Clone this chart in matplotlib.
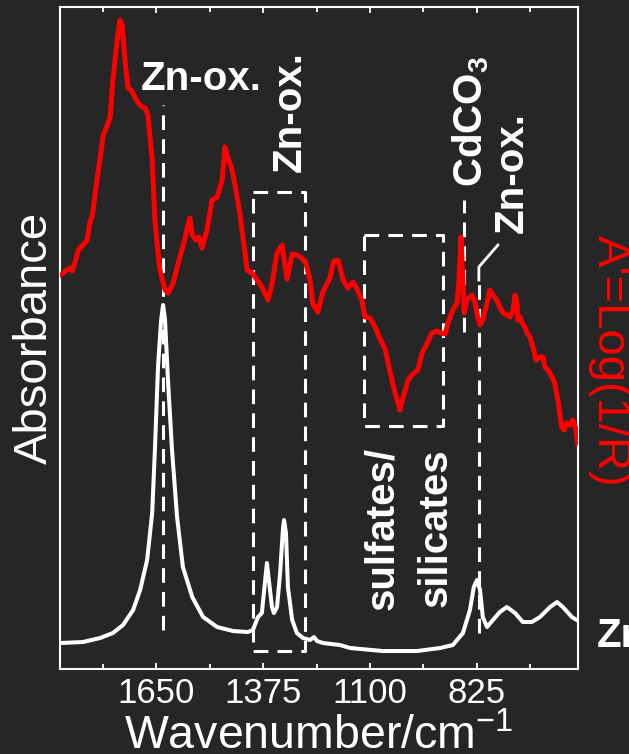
import matplotlib
matplotlib.use("Agg")
import matplotlib.pyplot as plt
from matplotlib.ticker import MultipleLocator

plt.rcParams['font.family'] = ['Liberation Sans', 'DejaVu Sans']
plt.rcParams['mathtext.fontset'] = 'custom'
plt.rcParams['mathtext.rm'] = 'Liberation Sans'
plt.rcParams['mathtext.default'] = 'regular'

# red spectrum: A' = log(1/R)
red_wn = [1897, 1889, 1879, 1871, 1866, 1858, 1850, 1838, 1827, 1820,
          1814, 1802, 1791, 1786, 1776, 1768, 1761, 1750, 1743, 1737,
          1730, 1722, 1714, 1707, 1696, 1686, 1678, 1671, 1660, 1653,
          1647, 1640, 1627, 1619, 1606, 1593, 1578, 1570, 1563, 1557,
          1547, 1540, 1532, 1519, 1506, 1493, 1480, 1473, 1465, 1457,
          1447, 1434, 1424, 1416, 1403, 1390, 1378, 1362, 1352, 1339,
          1326, 1318, 1313, 1300, 1288, 1275, 1265, 1254, 1247, 1234,
          1221, 1203, 1193, 1182, 1169, 1157, 1144, 1133, 1121, 1113,
          1100, 1087, 1074, 1061, 1049, 1036, 1023, 1013, 1002, 990,
          977, 966, 954, 941, 928, 918, 907, 897, 887, 876,
          871, 866, 861, 858, 851, 838, 830, 823, 817, 810,
          799, 792, 784, 774, 766, 758, 748, 740, 732, 727,
          722, 720, 714, 709, 702, 696, 689, 681, 673, 663,
          655, 650, 642, 632, 625, 617, 607, 601, 594, 586,
          578, 571, 566]
red_a = [3.94, 3.96, 3.99, 4.01, 3.98, 4.07, 4.19, 4.24, 4.29, 4.47,
         4.53, 4.89, 5.19, 5.34, 5.43, 5.52, 5.89, 6.29, 6.49, 6.44,
         6.09, 5.81, 5.79, 5.74, 5.66, 5.62, 5.61, 5.54, 5.09, 4.49,
         4.24, 3.99, 3.79, 3.76, 3.86, 4.06, 4.27, 4.41, 4.51, 4.34,
         4.29, 4.32, 4.21, 4.39, 4.69, 4.72, 4.89, 5.22, 5.11, 5.03,
         4.84, 4.54, 4.24, 3.99, 3.96, 3.89, 3.82, 3.69, 3.85, 4.16,
         4.24, 4.02, 3.90, 4.15, 4.14, 4.11, 4.06, 3.89, 3.65, 3.57,
         3.77, 3.91, 4.08, 4.09, 3.89, 3.81, 3.87, 3.80, 3.69, 3.52,
         3.51, 3.42, 3.30, 3.20, 2.98, 2.77, 2.59, 2.74, 2.89, 2.95,
         2.99, 3.16, 3.25, 3.36, 3.38, 3.36, 3.35, 3.49, 3.59, 3.66,
         3.89, 4.32, 3.89, 3.56, 3.69, 3.74, 3.67, 3.52, 3.44, 3.49,
         3.66, 3.79, 3.74, 3.69, 3.62, 3.56, 3.54, 3.52, 3.59, 3.74,
         3.66, 3.49, 3.52, 3.46, 3.42, 3.36, 3.32, 3.22, 3.09, 3.12,
         3.12, 3.02, 2.99, 2.92, 2.86, 2.69, 2.42, 2.39, 2.46, 2.44,
         2.49, 2.41, 2.26]

# white spectrum: Zn oxalate reference
ref_wn = [1897, 1838, 1794, 1761, 1735, 1709, 1691, 1673, 1660, 1653,
          1645, 1637, 1632, 1627, 1619, 1609, 1596, 1581, 1557, 1529,
          1493, 1452, 1414, 1401, 1388, 1378, 1372, 1365, 1360, 1352,
          1347, 1339, 1331, 1324, 1321, 1316, 1311, 1300, 1288, 1272,
          1254, 1244, 1236, 1221, 1177, 1151, 1067, 979, 920, 887,
          861, 843, 833, 825, 817, 810, 799, 784, 766, 748,
          727, 707, 684, 663, 637, 619, 604, 581, 568]
ref_a = [0.26, 0.27, 0.31, 0.36, 0.44, 0.59, 0.79, 1.09, 1.56, 2.19,
         3.02, 3.49, 3.64, 3.49, 2.86, 2.19, 1.52, 1.02, 0.72, 0.52,
         0.42, 0.38, 0.37, 0.39, 0.52, 0.56, 0.79, 1.06, 0.89, 0.62,
         0.56, 0.62, 0.96, 1.39, 1.49, 1.36, 0.82, 0.49, 0.36, 0.31,
         0.29, 0.32, 0.28, 0.26, 0.24, 0.21, 0.18, 0.18, 0.21, 0.24,
         0.36, 0.59, 0.82, 0.89, 0.79, 0.52, 0.42, 0.49, 0.57, 0.62,
         0.56, 0.47, 0.47, 0.52, 0.62, 0.67, 0.62, 0.52, 0.49]

xticks = [1650, 1375, 1100, 825]

bg = '#262626'
dash = (0, (4.8, 3))

fig = plt.figure(figsize=(6.29, 7.54), dpi=100, facecolor=bg)
ax = fig.add_axes([0.0954, 0.1127, 0.8236, 0.878])
ax.set_facecolor(bg)

ax.plot(ref_wn, ref_a, color='white', lw=2.9, solid_joinstyle='round')

# marker lines and boxes
ax.plot([1632, 1632], [0.39, 5.64], color='white', lw=2.2, ls=dash)
ax.plot([1401, 1267, 1267, 1401, 1401], [4.77, 4.77, 0.18, 0.18, 4.77],
        color='white', lw=2.2, ls=dash)
ax.plot([1115, 912, 912, 1115, 1115], [4.34, 4.34, 2.43, 2.43, 4.34],
        color='white', lw=2.2, ls=dash)
ax.plot([858, 858], [3.37, 4.69], color='white', lw=2.2, ls=dash)
ax.plot([820, 820], [0.36, 3.89], color='white', lw=2.2, ls=dash)
ax.plot([820, 820, 771], [3.89, 4.02, 4.24], color='white', lw=2.0)

bold = dict(color='white', fontsize=29, fontweight='bold')
ax.text(1533, 5.79, 'Zn-ox.', ha='center', va='baseline', **bold)
ax.text(1278, 5.57, 'Zn-ox.', rotation=90, rotation_mode='anchor',
        ha='center', va='baseline', **bold)
ax.text(810, 5.48, 'CdCO$_3$', rotation=90, rotation_mode='anchor',
        ha='center', va='baseline', **bold)
ax.text(707, 4.96, 'Zn-ox.', rotation=90, rotation_mode='anchor',
        ha='center', va='baseline', **bold)
ax.text(1041, 1.41, 'sulfates/', rotation=90, rotation_mode='anchor',
        ha='center', va='baseline', **bold)
ax.text(902, 1.41, 'silicates', rotation=90, rotation_mode='anchor',
        ha='center', va='baseline', **bold)
ax.text(517, 0.22, 'Zn-ox.', ha='left', va='baseline', clip_on=False, **bold)

ax.set_xlim(1897, 565)
ax.set_ylim(0, 6.62)
ax.set_xticks(xticks)
ax.xaxis.set_minor_locator(MultipleLocator(137.5))
ax.set_yticks([])
ax.tick_params(axis='x', which='both', direction='in', top=True, colors='white',
               labelsize=25, pad=6, width=1.3)
ax.tick_params(axis='x', which='major', length=4.5)
ax.tick_params(axis='x', which='minor', length=3.5)
for s in ax.spines.values():
    s.set_color('white')
    s.set_linewidth(1.5)

ax.set_xlabel('Wavenumber/cm$^{-1}$', color='white', fontsize=33.5, labelpad=3)
ax.set_ylabel('Absorbance', color='white', fontsize=34, labelpad=2)

ax2 = ax.twinx()
ax2.plot(red_wn, red_a, color='#ff0000', lw=3.6, solid_joinstyle='round')
ax2.set_ylim(0, 6.62)
ax2.set_yticks([])
ax2.axis('off')

fig.text(598 / 629, 1 - 361 / 754, "A'=Log(1/R)", color='#ff0000', fontsize=34,
         rotation=270, rotation_mode='anchor', ha='center', va='baseline')

fig.savefig('out.png', dpi=100, facecolor=bg)
